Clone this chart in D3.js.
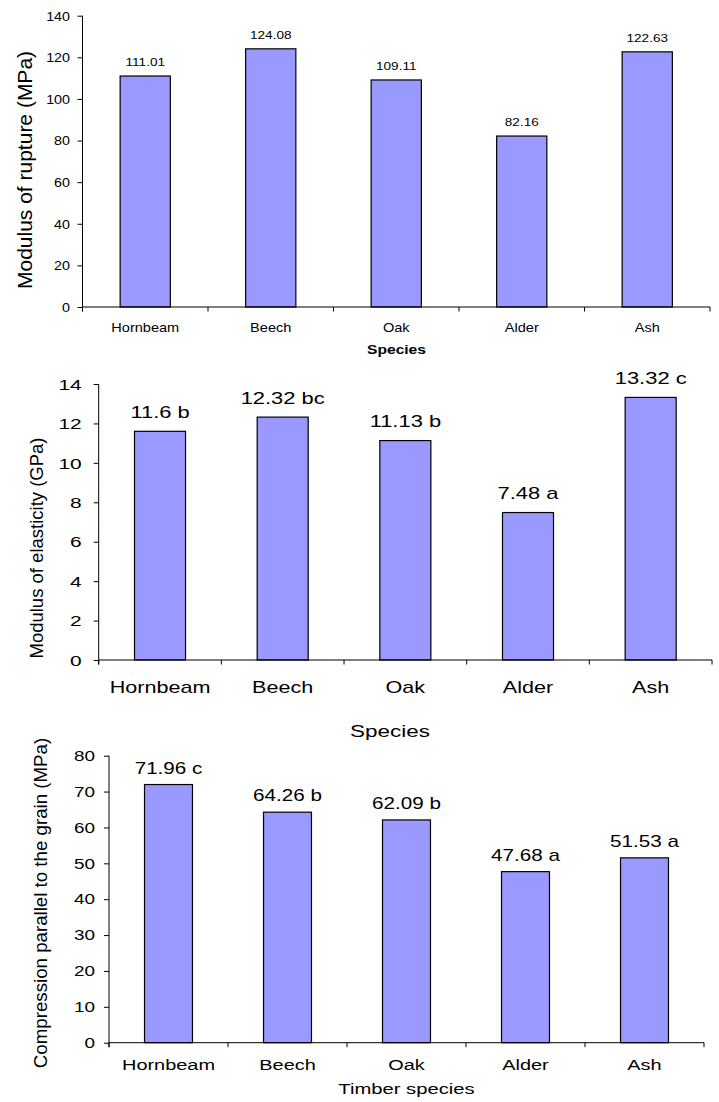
<!DOCTYPE html>
<html>
<head>
<meta charset="utf-8">
<script src="https://cdn.jsdelivr.net/npm/d3@7"></script>
<style>
  html, body { margin: 0; padding: 0; background: #fff; }
  svg { display: block; }
  text { font-family: "Liberation Sans", Arial, sans-serif; fill: #000; }
</style>
</head>
<body>
<svg id="chart" width="719" height="1102"></svg>
<script>
// ---------- data ----------
const species = ["Hornbeam", "Beech", "Oak", "Alder", "Ash"];

const morValues = [111.01, 124.08, 109.11, 82.16, 122.63];
const morLabels = ["111.01", "124.08", "109.11", "82.16", "122.63"];
const morTicks = [0, 20, 40, 60, 80, 100, 120, 140];

const moeValues = [11.6, 12.32, 11.13, 7.48, 13.32];
const moeLabels = ["11.6 b", "12.32 bc", "11.13 b", "7.48 a", "13.32 c"];
const moeTicks = [0, 2, 4, 6, 8, 10, 12, 14];

const compValues = [71.96, 64.26, 62.09, 47.68, 51.53];
const compLabels = ["71.96 c", "64.26 b", "62.09 b", "47.68 a", "51.53 a"];
const compTicks = [0, 10, 20, 30, 40, 50, 60, 70, 80];

// ---------- layout / style per panel ----------
const panels = [
  {
    values: morValues, labels: morLabels, ticks: morTicks,
    x0: 82.5, x1: 710, yZero: 307, yTop: 15.7,
    yTitle: "Modulus of rupture (MPa)", yTitleSize: 21, yTitleX: 31.5, yTitleY: 170,
    xTitle: "Species", xTitleBold: true, xTitleSize: 13, xTitleSx: 1.2, xTitleX: 396.5, xTitleY: 354,
    tickSize: 13, tickSx: 1.1, tickGap: 12.5,
    catSize: 13, catSx: 1.12, catY: 331.5,
    valSize: 11.5, valSx: 1.18, valGap: 9.6,
    barFrac: 0.4
  },
  {
    values: moeValues, labels: moeLabels, ticks: moeTicks,
    x0: 98.7, x1: 712, yZero: 660, yTop: 384,
    yTitle: "Modulus of elasticity (GPa)", yTitleSize: 18.5, yTitleX: 43, yTitleY: 548,
    xTitle: "Species", xTitleBold: false, xTitleSize: 17, xTitleSx: 1.32, xTitleX: 390, xTitleY: 736.5,
    tickSize: 15.5, tickSx: 1.35, tickGap: 17,
    catSize: 17, catSx: 1.27, catY: 692.5,
    valSize: 16, valSx: 1.37, valGap: 13.5,
    barFrac: 0.416
  },
  {
    values: compValues, labels: compLabels, ticks: compTicks,
    x0: 109, x1: 704, yZero: 1042.7, yTop: 755.7,
    yTitle: "Compression parallel to the grain (MPa)", yTitleSize: 18.7, yTitleX: 47, yTitleY: 903,
    xTitle: "Timber species", xTitleBold: false, xTitleSize: 15, xTitleSx: 1.35, xTitleX: 406.5, xTitleY: 1094,
    tickSize: 14, tickSx: 1.35, tickGap: 14,
    catSize: 15, catSx: 1.33, catY: 1070,
    valSize: 16, valSx: 1.29, valGap: 11,
    barFrac: 0.403
  }
];

const svg = d3.select("#chart");
svg.append("rect").attr("width", 719).attr("height", 1102).attr("fill", "#fff");

panels.forEach(p => {
  const g = svg.append("g");
  const maxTick = p.ticks[p.ticks.length - 1];

  const x = d3.scaleBand().domain(species).range([p.x0, p.x1]).paddingInner(0).paddingOuter(0);
  const y = d3.scaleLinear().domain([0, maxTick]).range([p.yZero, p.yTop]);

  // bars
  const bw = x.bandwidth() * p.barFrac;
  g.selectAll("rect.bar").data(species).join("rect")
    .attr("class", "bar")
    .attr("x", d => x(d) + (x.bandwidth() - bw) / 2)
    .attr("y", (d, i) => y(p.values[i]))
    .attr("width", bw)
    .attr("height", (d, i) => y(0) - y(p.values[i]))
    .attr("fill", "#9999FF")
    .attr("stroke", "#000")
    .attr("stroke-width", 1.2);

  // y axis
  const yAxis = d3.axisLeft(y).tickValues(p.ticks).tickSize(5).tickSizeOuter(0).tickFormat(d3.format("d"));
  const ya = g.append("g").attr("transform", `translate(${p.x0},0)`).call(yAxis);
  ya.select(".domain").attr("stroke", "#000").attr("d", `M0,${p.yZero + 4.5}V${p.yTop}`);
  ya.selectAll(".tick line").attr("stroke", "#000");
  ya.selectAll(".tick text")
    .attr("font-size", p.tickSize)
    .attr("font-family", "Liberation Sans, Arial, sans-serif")
    .attr("fill", "#000")
    .attr("x", -p.tickGap / p.tickSx)
    .attr("dy", "0.34em")
    .attr("transform", `scale(${p.tickSx},1)`);

  // x axis (ticks at category boundaries)
  const xa = g.append("g").attr("transform", `translate(0,${p.yZero})`);
  xa.append("line").attr("x1", p.x0).attr("x2", p.x1).attr("y1", 0).attr("y2", 0)
    .attr("stroke", "#000").attr("stroke-width", 1);
  const bounds = species.map(d => x(d)).concat([p.x1]);
  xa.selectAll("line.xt").data(bounds).join("line")
    .attr("class", "xt")
    .attr("x1", d => d).attr("x2", d => d).attr("y1", 0).attr("y2", 4.5)
    .attr("stroke", "#000");

  // category labels
  g.selectAll("text.cat").data(species).join("text")
    .attr("class", "cat")
    .attr("text-anchor", "middle")
    .attr("font-size", p.catSize)
    .attr("transform", d => `translate(${x(d) + x.bandwidth() / 2},${p.catY}) scale(${p.catSx},1)`)
    .text(d => d);

  // value labels
  g.selectAll("text.val").data(species).join("text")
    .attr("class", "val")
    .attr("text-anchor", "middle")
    .attr("font-size", p.valSize)
    .attr("transform", (d, i) => `translate(${x(d) + x.bandwidth() / 2},${y(p.values[i]) - p.valGap}) scale(${p.valSx},1)`)
    .text((d, i) => p.labels[i]);

  // x title
  g.append("text")
    .attr("text-anchor", "middle")
    .attr("font-size", p.xTitleSize)
    .attr("font-weight", p.xTitleBold ? "bold" : "normal")
    .attr("transform", `translate(${p.xTitleX},${p.xTitleY}) scale(${p.xTitleSx},1)`)
    .text(p.xTitle);

  // y title
  g.append("text")
    .attr("text-anchor", "middle")
    .attr("font-size", p.yTitleSize)
    .attr("transform", `translate(${p.yTitleX},${p.yTitleY}) rotate(-90)`)
    .text(p.yTitle);
});
</script>
</body>
</html>
